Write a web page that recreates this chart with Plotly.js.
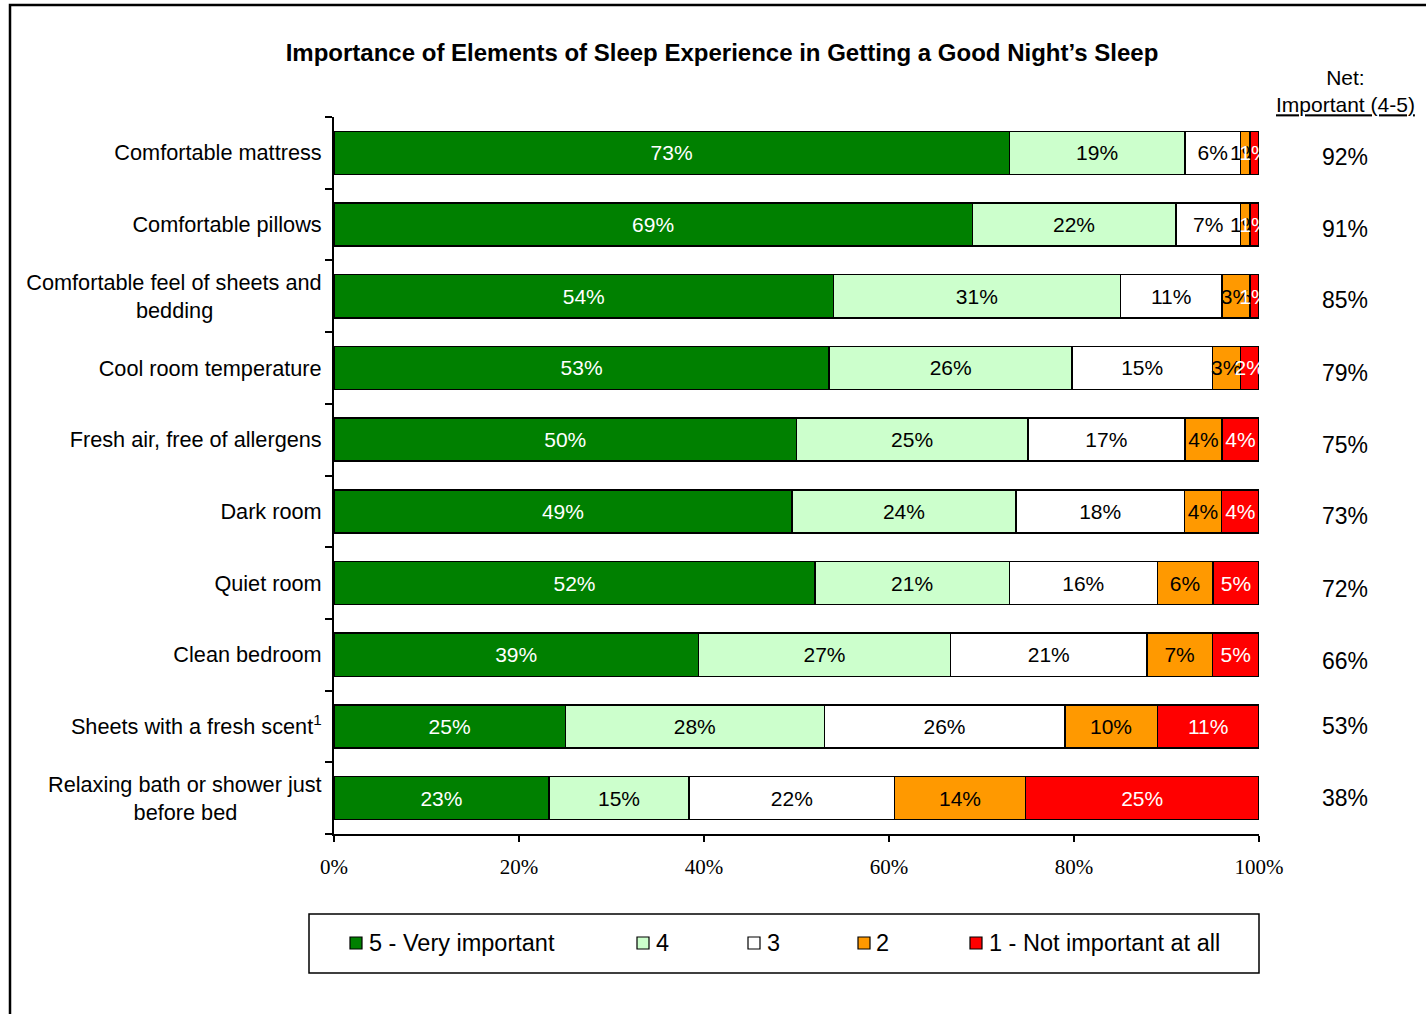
<!DOCTYPE html>
<html>
<head>
<meta charset="utf-8">
<script src="https://cdn.plot.ly/plotly-3.0.1.min.js"></script>
<style>
  html, body { margin: 0; padding: 0; background: #ffffff; }
  #chart { width: 1426px; height: 1014px; }
</style>
</head>
<body>
<div id="chart"></div>
<script>
// ---- data ----
const categories = [
  'Comfortable mattress',
  'Comfortable pillows',
  'Comfortable feel of sheets and bedding',
  'Cool room temperature',
  'Fresh air, free of allergens',
  'Dark room',
  'Quiet room',
  'Clean bedroom',
  'Sheets with a fresh scent¹',
  'Relaxing bath or shower just before bed'
];
const NB = '\u00A0';
const tickLabels = [
  'Comfortable mattress',
  'Comfortable pillows',
  'Comfortable feel of sheets and<br>bedding' + NB.repeat(18),
  'Cool room temperature',
  'Fresh air, free of allergens',
  'Dark room',
  'Quiet room',
  'Clean bedroom',
  'Sheets with a fresh scent<sup>1</sup>',
  'Relaxing bath or shower just<br>before bed' + NB.repeat(14)
];
const seriesNames = ['5 - Very important', '4', '3', '2', '1 - Not important at all'];
const veryImportant5 = [73, 69, 54, 53, 50, 49, 52, 39, 25, 23];
const rating4        = [19, 22, 31, 26, 25, 24, 21, 27, 28, 15];
const rating3        = [ 6,  7, 11, 15, 17, 18, 16, 21, 26, 22];
const rating2        = [ 1,  1,  3,  3,  4,  4,  6,  7, 10, 14];
const notImportant1  = [ 1,  1,  1,  2,  4,  4,  5,  5, 11, 25];
const netImportant   = [92, 91, 85, 79, 75, 73, 72, 66, 53, 38];
const xTickVals = [0, 20, 40, 60, 80, 100];
const xTickText = ['0%', '20%', '40%', '60%', '80%', '100%'];

const seriesValues = [veryImportant5, rating4, rating3, rating2, notImportant1];
const seriesColors = ['#008000', '#CCFFCC', '#FFFFFF', '#FF9900', '#FF0000'];
const textColors   = ['#FFFFFF', '#000000', '#000000', '#000000', '#FFFFFF'];

// ---- geometry helpers (pixel -> paper) ----
const W = 1426, H = 1014;
const ML = 334, MR = 167, MT = 117, MB = 180;
const PW = W - ML - MR, PH = H - MT - MB;
const px = p => (p - ML) / PW;
const py = p => 1 - (p - MT) / PH;

const FONT = 'Liberation Sans, Arial, sans-serif';

const traces = seriesValues.map((vals, i) => ({
  type: 'bar',
  orientation: 'h',
  name: seriesNames[i],
  y: categories,
  x: vals,
  text: vals.map(v => v + '%'),
  textposition: 'inside',
  insidetextanchor: 'middle',
  textangle: 0,
  textfont: { family: FONT, size: 21, color: textColors[i] },
  marker: { color: seriesColors[i], line: { color: '#000000', width: 1.5 } },
  showlegend: false,
  hoverinfo: 'name+x'
}));

// Net column annotations (the source column sits a few px off the bar centres)
const netShift = [-4, -4, -4, -5, -5, -5, -6, -6, 0, 0];
const annotations = categories.map((c, i) => ({
  xref: 'paper', yref: 'y',
  x: px(1345), y: c,
  text: netImportant[i] + '%',
  showarrow: false,
  xanchor: 'center', yanchor: 'middle',
  yshift: netShift[i],
  font: { family: FONT, size: 23, color: '#000000' }
}));
annotations.push({
  xref: 'paper', yref: 'paper',
  x: px(1345), y: py(91),
  text: 'Net:<br><u>Important (4-5)</u>',
  showarrow: false,
  xanchor: 'center', yanchor: 'middle',
  font: { family: FONT, size: 21, color: '#000000' }
});

// Manual legend (matches the boxed Excel legend)
const legMarkerLeft = [350, 637, 748, 858, 970];
const legTextLeft   = [367, 654, 765, 874, 987];
const legY = 943;
const shapes = [];
shapes.push({
  type: 'rect', xref: 'paper', yref: 'paper', layer: 'above',
  x0: px(309), x1: px(1259), y0: py(914), y1: py(973),
  line: { color: '#000000', width: 1.5 }, fillcolor: 'rgba(0,0,0,0)'
});
seriesNames.forEach((n, i) => {
  shapes.push({
    type: 'rect', xref: 'paper', yref: 'paper', layer: 'above',
    x0: px(legMarkerLeft[i]), x1: px(legMarkerLeft[i] + 12),
    y0: py(legY - 6), y1: py(legY + 6),
    line: { color: '#000000', width: 1.2 }, fillcolor: seriesColors[i]
  });
  annotations.push({
    xref: 'paper', yref: 'paper',
    x: px(legTextLeft[i]), y: py(legY),
    text: n, showarrow: false,
    xanchor: 'left', yanchor: 'middle',
    font: { family: FONT, size: 23.5, color: '#000000' }
  });
});
// outer frame
shapes.push({
  type: 'rect', xref: 'paper', yref: 'paper', layer: 'above',
  x0: px(10), x1: px(1450), y0: py(5), y1: py(1040),
  line: { color: '#000000', width: 2.5 }, fillcolor: 'rgba(0,0,0,0)'
});

const layout = {
  width: W, height: H,
  margin: { l: ML, r: MR, t: MT, b: MB, pad: 0 },
  paper_bgcolor: '#ffffff',
  plot_bgcolor: '#ffffff',
  barmode: 'stack',
  barnorm: 'percent',
  bargap: 0.4,
  uniformtext: { mode: 'show', minsize: 21 },
  title: {
    text: '<b>Importance of Elements of Sleep Experience in Getting a Good Night’s Sleep</b>',
    x: 722 / W, xref: 'container', xanchor: 'center',
    y: 1 - 53 / H, yref: 'container', yanchor: 'middle',
    font: { family: FONT, size: 24, color: '#000000' }
  },
  xaxis: {
    range: [0, 100],
    tickvals: xTickVals,
    ticktext: xTickText,
    showgrid: false,
    zeroline: false,
    showline: true, linecolor: '#000000', linewidth: 1.5,
    ticks: 'outside', ticklen: 6, tickwidth: 1.5, tickcolor: '#000000',
    ticklabelstandoff: 7,
    tickfont: { family: 'Liberation Serif, Times New Roman, serif', size: 21, color: '#000000' },
    fixedrange: true
  },
  yaxis: {
    type: 'category',
    autorange: 'reversed',
    tickmode: 'array',
    tickvals: categories,
    ticktext: tickLabels,
    showgrid: false,
    zeroline: false,
    showline: true, linecolor: '#000000', linewidth: 2,
    ticks: 'outside', tickson: 'boundaries', ticklen: 7, tickwidth: 2, tickcolor: '#000000',
    ticklabelstandoff: 6,
    tickfont: { family: FONT, size: 21.7, color: '#000000' },
    fixedrange: true
  },
  annotations: annotations,
  shapes: shapes,
  showlegend: false
};

Plotly.newPlot('chart', traces, layout, { displayModeBar: false, staticPlot: true });
</script>
</body>
</html>
